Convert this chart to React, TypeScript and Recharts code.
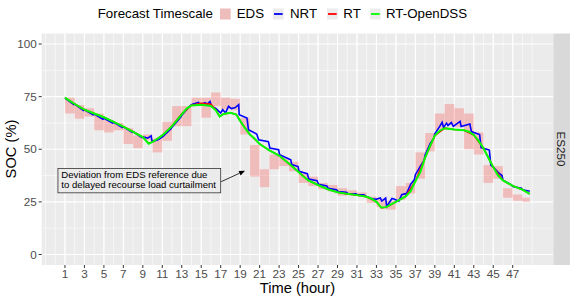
import {
  CartesianGrid,
  ComposedChart,
  Line,
  ReferenceArea,
  ReferenceLine,
  XAxis,
  YAxis,
} from "recharts";

const FONT = "'Liberation Sans', Arial, Helvetica, sans-serif";

// EDS hourly band (low / high SOC within each hour)
const edsHour = [
  1, 2, 3, 4, 5, 6, 7, 8, 9, 10, 11, 12, 13, 14, 15, 16, 17, 18, 19, 20, 21, 22, 23, 24,
  25, 26, 27, 28, 29, 30, 31, 32, 33, 34, 35, 36, 37, 38, 39, 40, 41, 42, 43, 44, 45, 46, 47, 48,
];
const edsLow = [
  67, 64.5, 65.5, 59, 58, 59, 52.5, 50.5, 54.5, 48.5, 54, 61, 61, 70.5, 65, 70.5, 69, 68.5, 57, 37,
  32, 40.5, 42, 39.5, 34, 32.5, 31, 30, 28, 28.5, 28, 24.5, 22.5, 21.3, 26, 29, 36, 49, 59, 61.5,
  60.5, 50, 47.5, 34, 36, 27, 25.5, 25,
];
const edsHigh = [
  74.5, 71, 69.5, 67, 64, 62.5, 60, 56.5, 57, 55, 63, 70.5, 70.5, 74.5, 74.5, 77, 74.5, 74, 65, 52,
  40.5, 47.5, 46, 44, 38.5, 37, 34, 33, 31.5, 30.5, 29.5, 27.5, 26.5, 25.5, 32.5, 34, 48.5, 57.7,
  67, 71.5, 69.5, 67, 58, 42.5, 42, 31.5, 28.5, 27,
];
const lastHour = 48.75;

// [hour, SOC %]
const nrtPoints: [number, number][] = [
  [1, 74.3], [1.9, 71.2], [2, 71.5], [2.9, 68.4], [3, 68.7], [3.9, 66.4], [4, 66.7], [4.9, 64.3],
  [5, 64.7], [5.9, 62.4], [6, 62.8], [6.9, 60.3], [7, 60.6], [7.9, 58], [8, 58.3], [8.9, 55.6],
  [9, 55.9], [9.5, 55.3], [9.85, 56.4], [9.95, 53.7], [10.5, 54.4], [11, 55.8], [11.9, 59.8],
  [12, 60.5], [12.9, 65.3], [13, 66.2], [13.9, 70.9], [14.1, 71.4], [14.7, 72.3], [14.9, 71.2],
  [15.4, 72.1], [15.6, 71.4], [15.9, 72.7], [16.05, 70.4], [16.5, 69.4], [17, 67.2], [17.2, 68.8],
  [17.5, 67.3], [17.8, 70.4], [18.1, 69.3], [18.5, 69.8], [18.85, 71.2], [18.9, 66.4], [19.7, 64.8],
  [19.85, 59.3], [20.7, 57.2], [20.9, 54.5], [21.9, 53.6], [22.05, 50.6], [22.95, 49.8],
  [23.05, 47.4], [24.2, 45], [24.3, 42.7], [24.95, 41.8], [25.05, 39.5], [25.9, 38.4],
  [26.05, 35.8], [26.9, 35], [27.05, 33.3], [27.9, 32.6], [28.05, 31.4], [28.9, 30.8],
  [29.05, 29.9], [29.9, 29.6], [30.05, 29], [30.9, 28.8], [31.05, 28.3], [31.7, 28.4],
  [31.95, 27.6], [32.6, 26.4], [32.95, 26.2], [33.4, 26.9], [33.55, 25.4], [33.95, 26.8],
  [34.05, 22.8], [34.6, 26.6], [34.8, 26.4], [35.3, 25.3], [35.6, 28.4], [35.95, 28.9],
  [36.05, 28.6], [36.5, 33.2], [36.9, 35.6], [37, 37.9], [37.5, 41.9], [37.9, 44.8], [38, 47.3],
  [38.5, 52.5], [38.9, 55.4], [39, 57.3], [39.5, 60.9], [39.75, 62.8], [39.9, 60.3], [40.2, 62.4],
  [40.35, 61.3], [40.7, 62.7], [40.9, 60.9], [41.6, 63.2], [41.7, 60.8], [42.6, 62], [42.75, 58.4],
  [43.6, 57], [43.75, 50.8], [44.6, 49.6], [44.75, 42.5], [45, 41.5], [45.5, 39], [45.9, 37.5],
  [46, 35.3], [46.9, 33], [47, 32.3], [47.9, 31.5], [48, 30.8], [48.75, 30],
];

const rtPoints: [number, number][] = [
  [1, 74.5], [2, 71.5], [3, 68.8], [4, 67], [5, 65.2], [6, 63], [7, 60.8], [8, 58.3], [9, 55.8],
  [9.6, 52.8], [10, 53.5], [11, 56.6], [12, 61], [13, 66.8], [14, 70.9], [15, 71.8], [16, 71.4],
  [16.5, 68.7], [16.9, 65.6], [17.3, 66.8], [18, 67.3], [18.6, 66.5], [19, 63.5], [20, 57],
  [21, 52.5], [22, 49.5], [23, 47], [24, 43.2], [25, 39.2], [26, 35.2], [27, 33], [28, 31],
  [29, 29.6], [30, 28.8], [31, 28.2], [32, 27.4], [33, 25], [33.5, 22.1], [34, 22.4], [35, 25],
  [36, 27.6], [37, 34.8], [38, 46], [39, 56.5], [40, 60], [41, 59.4], [42, 59], [43, 56.8],
  [44, 50.5], [45, 41.5], [46, 35.2], [47, 32.6], [48, 30.8], [48.75, 28.8],
];

const openDssPoints: [number, number][] = [
  [1, 74.5], [1.5, 73], [2, 71.5], [3, 68.8], [4, 67], [5, 65.2], [6, 63], [7, 60.8], [8, 58.3],
  [9, 55.8], [9.6, 52.6], [10, 53.5], [10.5, 55], [11, 56.6], [12, 61], [13, 66.6], [13.5, 69.3],
  [14, 70.8], [15, 71.2], [16, 70.6], [16.5, 68.5], [16.9, 65.5], [17.3, 66.8], [18, 67.3],
  [18.6, 66.5], [19, 63.5], [19.5, 60], [20, 57], [20.5, 55], [21, 52.5], [22, 49.5], [23, 47],
  [24, 43.2], [25, 39.2], [25.5, 37], [26, 35.2], [27, 33], [28, 31], [29, 29.6], [30, 28.8],
  [31, 28.2], [32, 27.4], [32.5, 26.5], [33, 25], [33.5, 22.3], [34, 22.5], [34.5, 23.8], [35, 25],
  [36, 27.6], [36.5, 30], [37, 34.8], [37.5, 39], [38, 46], [38.5, 51.5], [39, 56.5], [39.5, 58.8],
  [40, 60], [41, 59.4], [42, 59], [42.5, 58.3], [43, 56.8], [43.5, 54], [44, 50.5], [44.5, 46],
  [45, 41.5], [45.5, 37.5], [46, 35.2], [47, 32.6], [48, 30.8], [48.75, 28.8],
];

const xTicks = [1, 3, 5, 7, 9, 11, 13, 15, 17, 19, 21, 23, 25, 27, 29, 31, 33, 35, 37, 39, 41, 43, 45, 47];
const xMinor = [
  -1, 0, 1, 2, 3, 4, 5, 6, 7, 8, 9, 10, 11, 12, 13, 14, 15, 16, 17, 18, 19, 20, 21, 22, 23, 24, 25,
  26, 27, 28, 29, 30, 31, 32, 33, 34, 35, 36, 37, 38, 39, 40, 41, 42, 43, 44, 45, 46, 47, 48, 49,
];
const yTicks = [0, 25, 50, 75, 100];
const yMinor = [12.5, 37.5, 62.5, 87.5];

const toRows = (pts: [number, number][]) => pts.map(([t, soc]) => ({ t, soc }));

const legendItems = [
  { label: "EDS", kind: "fill", color: "#ff0000", keyX: 220, textX: 236.7 },
  { label: "NRT", kind: "line", color: "#0000ff", keyX: 273, textX: 290 },
  { label: "RT", kind: "line", color: "#ff0000", keyX: 327, textX: 343.3 },
  { label: "RT-OpenDSS", kind: "line", color: "#00ff00", keyX: 370, textX: 386 },
];

function AnnotationBox(p: any) {
  return (
    <g>
      <rect x={p.x} y={p.y} width={p.width} height={p.height} fill="#ebebeb" stroke="#333333" strokeWidth={0.8} />
      <text x={p.x + 3.4} y={p.y + 9.6} fontSize={9.6} fontFamily={FONT} fill="#000">
        Deviation from EDS reference due
      </text>
      <text x={p.x + 3.4} y={p.y + 20} fontSize={9.6} fontFamily={FONT} fill="#000">
        to delayed recourse load curtailment
      </text>
    </g>
  );
}

function Arrow(p: any) {
  const { x1, y1, x2, y2 } = p;
  const ang = Math.atan2(y2 - y1, x2 - x1);
  const len = 6;
  const w = 2.4;
  const bx = x2 - len * Math.cos(ang);
  const by = y2 - len * Math.sin(ang);
  const nx = -Math.sin(ang) * w;
  const ny = Math.cos(ang) * w;
  return (
    <g>
      <line x1={x1} y1={y1} x2={bx} y2={by} stroke="#000" strokeWidth={0.8} />
      <polygon points={`${x2},${y2} ${bx + nx},${by + ny} ${bx - nx},${by - ny}`} fill="#000" />
    </g>
  );
}

export default function App() {
  return (
    <div style={{ position: "absolute", left: 0, top: 0, width: 574, height: 299, background: "#fff", fontFamily: FONT }}>
      <ComposedChart width={574} height={299} margin={{ top: 33.5, right: 21, bottom: 4, left: 7.7 }}>
        <CartesianGrid
          stroke="#ffffff"
          strokeWidth={0.55}
          fill="#ebebeb"
          verticalValues={xMinor}
          horizontalValues={yMinor}
        />
        <CartesianGrid stroke="#ffffff" strokeWidth={1.1} verticalValues={xTicks} horizontalValues={yTicks} />
        <XAxis
          dataKey="t"
          type="number"
          domain={[-1.39, 51.14]}
          allowDataOverflow
          ticks={xTicks}
          interval={0}
          height={30}
          axisLine={false}
          tickSize={3}
          tickMargin={1.5}
          tickLine={{ stroke: "#333333" }}
          tick={{ fill: "#4d4d4d", fontSize: 11.7, fontFamily: FONT }}
        />
        <YAxis
          type="number"
          domain={[-5, 105]}
          allowDataOverflow
          ticks={yTicks}
          interval={0}
          width={34}
          axisLine={false}
          tickSize={3}
          tickMargin={2}
          tickLine={{ stroke: "#333333" }}
          tick={{ fill: "#4d4d4d", fontSize: 11.7, fontFamily: FONT }}
        />
        {edsHour.map((h, i) => (
          <ReferenceArea
            key={`eds-${h}`}
            x1={h}
            x2={Math.min(h + 1, lastHour)}
            y1={edsLow[i]}
            y2={edsHigh[i]}
            fill="#ff0000"
            fillOpacity={0.2}
            stroke="none"
            strokeWidth={0}
            ifOverflow="visible"
          />
        ))}
        <ReferenceArea x1={0.28} x2={17.0} y1={29.3} y2={40.9} ifOverflow="visible" shape={AnnotationBox} />
        <Line
          data={toRows(nrtPoints)}
          dataKey="soc"
          type="linear"
          stroke="#0000ff"
          strokeWidth={1.6}
          dot={false}
          isAnimationActive={false}
        />
        <Line
          data={toRows(rtPoints)}
          dataKey="soc"
          type="linear"
          stroke="#ff0000"
          strokeWidth={1.6}
          dot={false}
          isAnimationActive={false}
        />
        <Line
          data={toRows(openDssPoints)}
          dataKey="soc"
          type="linear"
          stroke="#00ff00"
          strokeWidth={2}
          dot={false}
          isAnimationActive={false}
        />
        <ReferenceLine
          segment={[
            { x: 17.05, y: 34.6 },
            { x: 19.5, y: 39.8 },
          ]}
          ifOverflow="visible"
          stroke="#000"
          shape={Arrow}
        />
      </ComposedChart>
      <svg
        width={574}
        height={299}
        style={{ position: "absolute", left: 0, top: 0, pointerEvents: "none" }}
      >
        <text x={97.7} y={18.3} fontSize={13.3} fontFamily={FONT} fill="#000">
          Forecast Timescale
        </text>
        {legendItems.map((it) => (
          <g key={it.label}>
            <rect x={it.keyX} y={8.5} width={10.7} height={11} fill="#ebebeb" />
            {it.kind === "fill" ? (
              <rect x={it.keyX} y={8.5} width={10.7} height={11} fill={it.color} fillOpacity={0.2} />
            ) : (
              <line x1={it.keyX + 1} y1={14} x2={it.keyX + 9.7} y2={14} stroke={it.color} strokeWidth={1.8} />
            )}
            <text x={it.textX} y={18.3} fontSize={13.3} fontFamily={FONT} fill="#000">
              {it.label}
            </text>
          </g>
        ))}
        <text
          x={16}
          y={149}
          fontSize={14.7}
          fontFamily={FONT}
          fill="#000"
          textAnchor="middle"
          transform="rotate(-90 16 149)"
        >
          SOC (%)
        </text>
        <text x={297.4} y={293} fontSize={14.7} fontFamily={FONT} fill="#000" textAnchor="middle">
          Time (hour)
        </text>
        <rect x={553.3} y={33.5} width={16.7} height={231.5} fill="#d9d9d9" />
        <text
          x={557}
          y={149}
          fontSize={11.7}
          fontFamily={FONT}
          fill="#1a1a1a"
          textAnchor="middle"
          transform="rotate(90 557 149)"
        >
          ES250
        </text>
      </svg>
    </div>
  );
}
